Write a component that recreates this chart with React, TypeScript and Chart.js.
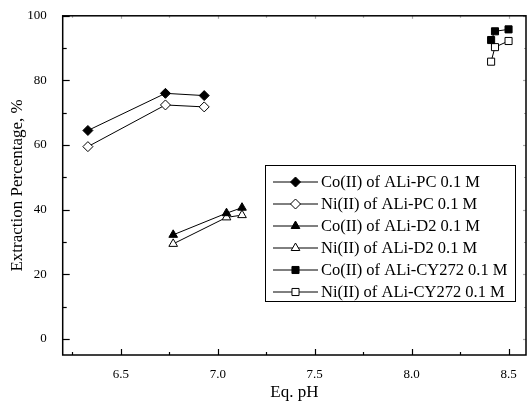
import React, { useEffect, useRef } from 'react';
import { Chart, registerables } from 'chart.js';

Chart.register(...registerables);

// ---- Data ----
const pcPH = [6.33, 6.73, 6.93];
const coPC = [64.5, 76.0, 75.3];
const niPC = [59.5, 72.4, 71.8];

const d2PH = [6.77, 7.045, 7.125];
const coD2 = [32.2, 38.9, 40.6];
const niD2 = [29.4, 37.6, 38.3];

const cyPHCo = [8.41, 8.43, 8.50];
const cyPHNi = [8.41, 8.43, 8.50];
const coCY = [92.5, 95.2, 95.8];
const niCY = [85.8, 90.3, 92.2];

const seriesNames = [
  'Co(II) of ALi-PC 0.1 M',
  'Ni(II) of ALi-PC 0.1 M',
  'Co(II) of ALi-D2 0.1 M',
  'Ni(II) of ALi-D2 0.1 M',
  'Co(II) of ALi-CY272 0.1 M',
  'Ni(II) of ALi-CY272 0.1 M',
];

const xMajorTicks = [6.5, 7.0, 7.5, 8.0, 8.5];
const xMinorTicks = [6.25, 6.75, 7.25, 7.75, 8.25];
const xTickLabels = ['6.5', '7.0', '7.5', '8.0', '8.5'];
const yMajorTicks = [0, 20, 40, 60, 80, 100];
const yMinorTicks = [10, 30, 50, 70, 90];
const yTickLabels = ['0', '20', '40', '60', '80', '100'];

const FONT = "'Liberation Serif', 'Times New Roman', serif";

const pts = (xs: number[], ys: number[]) => xs.map((x, i) => ({ x, y: ys[i] }));

const styles = [
  { shape: 'rectRot', fill: '#000' },
  { shape: 'rectRot', fill: '#fff' },
  { shape: 'triangle', fill: '#000' },
  { shape: 'triangle', fill: '#fff' },
  { shape: 'rect', fill: '#000' },
  { shape: 'rect', fill: '#fff' },
];

function drawMarker(ctx: CanvasRenderingContext2D, shape: string, x: number, y: number, r: number, fill: string) {
  ctx.beginPath();
  if (shape === 'rectRot') {
    ctx.moveTo(x - r, y);
    ctx.lineTo(x, y - r);
    ctx.lineTo(x + r, y);
    ctx.lineTo(x, y + r);
  } else if (shape === 'triangle') {
    const s = Math.sin(Math.PI / 3) * r;
    ctx.moveTo(x, y - r);
    ctx.lineTo(x + s, y + r / 2);
    ctx.lineTo(x - s, y + r / 2);
  } else {
    const h = Math.SQRT1_2 * r;
    ctx.rect(x - h, y - h, 2 * h, 2 * h);
  }
  ctx.closePath();
  ctx.fillStyle = fill;
  ctx.fill();
  ctx.strokeStyle = '#000';
  ctx.lineWidth = 1;
  ctx.stroke();
}

const framePlugin = {
  id: 'frameTicks',
  afterDatasetsDraw(chart: any) {
    const { ctx, chartArea: a, scales } = chart;
    const xs = scales.x;
    const ys = scales.y;
    ctx.save();
    ctx.lineWidth = 1.2;
    const line = (x1: number, y1: number, x2: number, y2: number, color: string) => {
      ctx.strokeStyle = color;
      ctx.beginPath();
      ctx.moveTo(x1, y1);
      ctx.lineTo(x2, y2);
      ctx.stroke();
    };
    xMajorTicks.forEach((v) => {
      const px = Math.round(xs.getPixelForValue(v)) + 0.5;
      line(px, a.bottom, px, a.bottom - 6, '#000');
      line(px, a.top, px, a.top + 3, '#aaa');
    });
    xMinorTicks.forEach((v) => {
      const px = Math.round(xs.getPixelForValue(v)) + 0.5;
      line(px, a.bottom, px, a.bottom - 3, '#000');
      line(px, a.top, px, a.top + 2, '#aaa');
    });
    yMajorTicks.forEach((v) => {
      const py = Math.round(ys.getPixelForValue(v)) + 0.5;
      line(a.left, py, a.left + 7, py, '#000');
      line(a.right, py, a.right - 3, py, '#aaa');
    });
    yMinorTicks.forEach((v) => {
      const py = Math.round(ys.getPixelForValue(v)) + 0.5;
      line(a.left, py, a.left + 4, py, '#000');
      line(a.right, py, a.right - 2, py, '#aaa');
    });
    ctx.strokeStyle = '#000';
    ctx.lineWidth = 1.5;
    ctx.strokeRect(a.left, a.top, a.right - a.left, a.bottom - a.top);
    ctx.restore();
  },
};

const legendPlugin = {
  id: 'boxLegend',
  afterDraw(chart: any) {
    const { ctx } = chart;
    const left = 265.5, top = 165.5, right = 515.5, bottom = 301.5;
    ctx.save();
    ctx.fillStyle = '#fff';
    ctx.fillRect(left, top, right - left, bottom - top);
    ctx.strokeStyle = '#000';
    ctx.lineWidth = 1;
    ctx.strokeRect(left, top, right - left, bottom - top);
    ctx.font = `16.5px ${FONT}`;
    ctx.textBaseline = 'middle';
    chart.data.datasets.forEach((ds: any, i: number) => {
      const y = 182 + i * 22;
      ctx.strokeStyle = '#000';
      ctx.lineWidth = 1;
      ctx.beginPath();
      ctx.moveTo(273, y);
      ctx.lineTo(318, y);
      ctx.stroke();
      drawMarker(ctx, styles[i].shape, 295.5, y, 5, styles[i].fill);
      ctx.fillStyle = '#000';
      ctx.fillText(ds.label, 321, y + 1);
    });
    ctx.restore();
  },
};

export default function App() {
  const ref = useRef<HTMLCanvasElement | null>(null);
  useEffect(() => {
    if (!ref.current) return;
    const data = [
      pts(pcPH, coPC),
      pts(pcPH, niPC),
      pts(d2PH, coD2),
      pts(d2PH, niD2),
      pts(cyPHCo, coCY),
      pts(cyPHNi, niCY),
    ];
    const chart = new Chart(ref.current, {
      type: 'line',
      data: {
        datasets: data.map((d, i) => ({
          label: seriesNames[i],
          data: d,
          showLine: true,
          borderColor: '#000',
          borderWidth: 1,
          pointStyle: styles[i].shape as any,
          pointRadius: 5,
          pointBackgroundColor: styles[i].fill,
          pointBorderColor: '#000',
          pointBorderWidth: 1,
          tension: 0,
        })),
      },
      options: {
        animation: false,
        responsive: false,
        devicePixelRatio: 1,
        layout: { padding: { top: 10.5, right: 2, left: 0, bottom: 0 } },
        plugins: {
          legend: { display: false },
          tooltip: { enabled: false },
        },
        scales: {
          x: {
            type: 'linear',
            min: 6.2,
            max: 8.59,
            grid: { display: false },
            border: { display: false },
            afterBuildTicks: (s: any) => {
              s.ticks = xMajorTicks.map((v) => ({ value: v }));
            },
            afterFit: (s: any) => {
              s.height = 51;
            },
            ticks: {
              color: '#000',
              font: { family: FONT, size: 13 },
              padding: 4,
              maxRotation: 0,
              autoSkip: false,
              callback: (v: any) => {
                const i = xMajorTicks.indexOf(Number(v));
                return i >= 0 ? xTickLabels[i] : '';
              },
            },
            title: {
              display: true,
              text: 'Eq. pH',
              color: '#000',
              font: { family: FONT, size: 17 },
              padding: { top: 0, bottom: 3 },
            },
          },
          y: {
            type: 'linear',
            min: -5,
            max: 100,
            grid: { display: false },
            border: { display: false },
            afterBuildTicks: (s: any) => {
              s.ticks = yMajorTicks.map((v) => ({ value: v }));
            },
            afterFit: (s: any) => {
              s.width = 62.7;
            },
            ticks: {
              color: '#000',
              font: { family: FONT, size: 13 },
              padding: 8,
              autoSkip: false,
              callback: (v: any) => {
                const i = yMajorTicks.indexOf(Number(v));
                return i >= 0 ? yTickLabels[i] : '';
              },
            },
            title: {
              display: true,
              text: 'Extraction Percentage, %',
              color: '#000',
              font: { family: FONT, size: 17 },
              padding: { top: 7, bottom: 0 },
            },
          },
        },
      },
      plugins: [framePlugin, legendPlugin],
    });
    return () => chart.destroy();
  }, []);
  return (
    <div style={{ position: 'fixed', left: 0, top: 0, width: 532, height: 406, background: '#fff' }}>
      <canvas ref={ref} width={532} height={406} />
    </div>
  );
}
